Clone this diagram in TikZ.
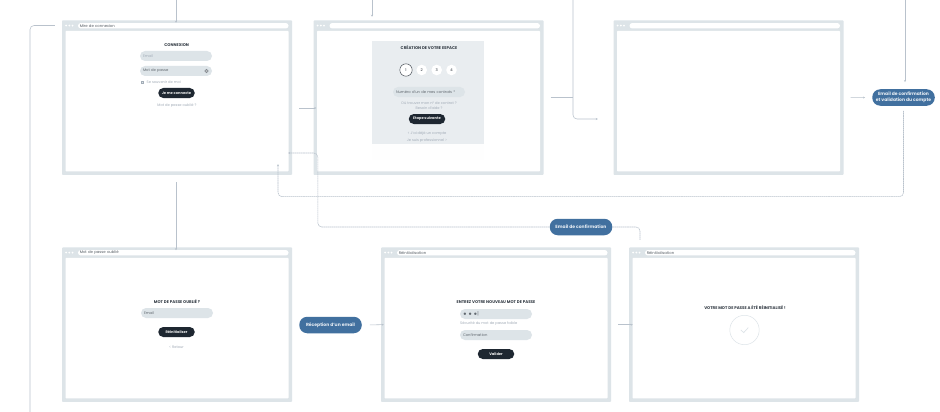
\documentclass[tikz,border=0pt]{standalone}
\usepackage{fontspec}
\setmainfont{Poppins}
\usetikzlibrary{arrows.meta, positioning, calc}

\definecolor{framegrey}{HTML}{DDE4E8}
\definecolor{panelgrey}{HTML}{E9EDF0}
\definecolor{linegrey}{HTML}{B9C2CC}
\definecolor{inkdark}{HTML}{1E2731}
\definecolor{softtext}{HTML}{A3ADB8}
\definecolor{pillblue}{HTML}{41709F}

\newcommand{\browser}[4]{%
  \node[frame] (#1) at (#2,#3) {};
  \node[pane] (#1pane) at ([yshift=-3.4pt]#1.center) {};
  \node[urlbar, anchor=north west] (#1bar) at ([xshift=16pt,yshift=-2.6pt]#1.north west) {#4};
  \foreach \i in {0,1,2} {\node[urldot] (#1dot\i) at ([xshift={4.3pt+3.2*\i pt},yshift=-5.3pt]#1.north west) {};}
}

\begin{document}
\begin{tikzpicture}[
    x=1pt, y=-1pt,
    frame/.style={rectangle, fill=framegrey, rounded corners=0.8pt, minimum width=230pt, minimum height=154.5pt, inner sep=0pt},
    pane/.style={rectangle, fill=white, rounded corners=0.8pt, minimum width=223pt, minimum height=140.5pt, inner sep=0pt},
    urlbar/.style={rectangle, fill=white, rounded corners=2.7pt, minimum width=210.5pt, minimum height=5.4pt, text width=207pt, inner sep=0pt, font=\fontsize{3.8}{4}\selectfont, text=inkdark!75},
    urldot/.style={circle, fill=white, minimum size=2pt, inner sep=0pt},
    heading/.style={font=\fontsize{4}{4}\selectfont\bfseries, text=inkdark!90, inner sep=0pt},
    field/.style={rectangle, fill=framegrey, rounded corners=5pt, minimum width=72pt, minimum height=10pt, text width=66pt, inner sep=0pt, font=\fontsize{3.7}{4}\selectfont, text=inkdark!70},
    button/.style={rectangle, fill=inkdark, rounded corners=5pt, minimum width=36.5pt, minimum height=10pt, inner sep=0pt, font=\fontsize{3.6}{4}\selectfont\bfseries, text=white!92!inkdark},
    hint/.style={font=\fontsize{3.6}{4.6}\selectfont, text=softtext, inner sep=0pt, align=center},
    pill/.style={rectangle, fill=pillblue, rounded corners=8pt, minimum width=62.5pt, minimum height=16.5pt, inner sep=0pt, align=center, font=\fontsize{4.5}{5.6}\selectfont\bfseries, text=white!88!pillblue},
    stepdot/.style={circle, fill=white, minimum size=10.6pt, inner sep=0pt, font=\fontsize{3.7}{4}\selectfont, text=inkdark},
    arrow/.style={-{Stealth[length=2pt,width=2pt]}, draw=linegrey, line width=0.55pt},
    link/.style={draw=linegrey, line width=0.55pt, rounded corners=4pt},
    dashlink/.style={link, dash pattern=on 1.6pt off 0.5pt},
    dasharrow/.style={dashlink, -{Stealth[length=2pt,width=2pt]}}
]
\useasboundingbox (0,0) rectangle (940,412);
\fill[white] (0,0) rectangle (940,412);

% Windows
\browser{login}{177}{97.7}{Mire de connexion}
\browser{signup}{428.5}{97.7}{}
\browser{blank}{728.5}{97.7}{}
\browser{forgot}{177}{324.7}{Mot de passe oublié}
\browser{reset}{496}{324.7}{Réinitialisation}
\browser{done}{744}{324.7}{Réinitialisation}

% Login screen
\node[heading] (logintitle) at (176.7,44.7) {CONNEXION};
\node[field, text=softtext] (loginmail) at (176,56) {Email};
\node[field] (loginpass) at (176,71) {Mot de passe};
\node[circle, draw=inkdark!55, fill=inkdark!30, line width=0.5pt, minimum size=3.6pt, inner sep=0pt] (logineye) at (206.5,71) {};
\node[rectangle, draw=softtext, fill=framegrey, line width=0.3pt, minimum size=2.6pt, inner sep=0pt] (logincheck) at (142,82) {};
\node[hint, anchor=west] (loginkeep) at (146.5,82) {Se souvenir de moi};
\node[button] (loginbtn) at (176.5,93) {Je me connecte};
\node[hint] (loginlost) at (177,106) {Mot de passe oublié ?};

% Signup screen
\fill[white!97!panelgrey] (372,144) rectangle (484,160);
\node[rectangle, fill=panelgrey, minimum width=112pt, minimum height=103pt, inner sep=0pt] (signuppanel) at (428,92.5) {};
\node[heading] (signuptitle) at (429,48) {CRÉATION DE VOTRE ESPACE};
\node[stepdot, draw=inkdark!80, line width=0.5pt, minimum size=12.4pt] (stepa) at (406,70) {1};
\node[stepdot] (stepb) at (421.7,70) {2};
\node[stepdot] (stepc) at (436.7,70) {3};
\node[stepdot] (stepd) at (451.5,70) {4};
\node[field] (signupfield) at (429,92) {Numéro d'un de mes contrats *};
\node[hint] (signuphelp) at (429,105.5) {Où trouver mon n° de contrat ?\\Besoin d'aide ?};
\node[button] (signupbtn) at (427,119) {Etape suivante};
\node[hint] (signupback) at (427,134) {< J'ai déjà un compte};
\node[hint] (signuppro) at (427,141) {Je suis professionnel >};

% Forgotten password screen
\node[heading] (forgottitle) at (177,302) {MOT DE PASSE OUBLIÉ ?};
\node[field] (forgotmail) at (177,313) {Email};
\node[button] (forgotbtn) at (176.5,332) {Réinitialiser};
\node[hint] (forgotback) at (176.5,347) {< Retour};

% New password screen
\node[heading] (resettitle) at (496,302) {ENTREZ VOTRE NOUVEAU MOT DE PASSE};
\node[field, font=\fontsize{5}{5}\selectfont] (resetpass) at (496,314) {$\bullet\bullet\bullet$|};
\node[hint, anchor=west] (resetweak) at (460,323.7) {Sécurité du mot de passe faible};
\node[field] (resetconf) at (496,335) {Confirmation};
\node[button] (resetbtn) at (496,354) {Valider};

% Done screen
\node[heading] (donetitle) at (745,308) {VOTRE MOT DE PASSE A ÉTÉ RÉINITIALISÉ !};
\node[circle, draw=framegrey, line width=0.5pt, minimum size=29.4pt, inner sep=0pt] (donering) at (744.5,330) {};
\draw[draw=framegrey, line width=0.7pt] ([xshift=-3.6pt]donering.center) -- ([xshift=-0.8pt,yshift=-2.6pt]donering.center) -- ([xshift=3.8pt,yshift=2.4pt]donering.center);

% Steps between screens
\node[pill] (mailconfirm) at (581,227) {Email de confirmation};
\node[pill] (mailvalid) at (903.5,97.5) {Email de confirmation\\et validation du compte};
\node[pill] (mailreceive) at (330.5,325) {Réception d'un email};

% Free ends
\coordinate (topa) at (176,0);
\coordinate (topb) at (372,0);
\coordinate (topc) at (573,0);
\coordinate (topd) at (905,0);
\coordinate (leftend) at (30,412);

% Connections
\draw[arrow] (topa) -- ([xshift=-1pt,yshift=-2.5pt]login.north);
\draw[arrow, shorten >=3.5pt] (topb) -- ([xshift=-56.5pt]signup.north);
\draw[arrow, shorten >=7pt] (topd) -- (topd |- mailvalid.north);
\draw[link] ([xshift=-7pt,yshift=72.2pt]login.west) -| (leftend);
\draw[arrow, shorten <=7pt, shorten >=-3pt] ([yshift=-10.3pt]login.east) -- ([yshift=-10.3pt]signup.west);
\draw[link, shorten <=7pt] (signup.east) -- (topc |- signup.east);
\draw[arrow, rounded corners=4pt] (topc) |- ([xshift=-15.5pt,yshift=-21.3pt]blank.west);
\draw[arrow, shorten <=7pt, shorten >=7pt] (blank.east) -- (mailvalid.west);
\draw[arrow, shorten <=7pt, shorten >=-3pt] ([xshift=-1pt]login.south) -- ([xshift=-1pt]forgot.north);
\draw[dasharrow, shorten <=5pt] (mailvalid.south) |- ([xshift=101pt,yshift=-21.5pt]login.south) -- ([xshift=101pt,yshift=11pt]login.south);
\draw[dasharrow] (mailconfirm.west) -| ([xshift=4.5pt,yshift=-55.3pt]signup.west) -- ([xshift=-4pt,yshift=-55.3pt]login.east);
\draw[dashlink, shorten >=7.5pt] (mailconfirm.east) -| ([xshift=-104pt]done.north);
\draw[arrow, shorten <=8pt, shorten >=-3pt] (mailreceive.east) -- (reset.west);
\draw[arrow, shorten <=7pt, shorten >=-4pt] (reset.east) -- (done.west);

\end{tikzpicture}
\end{document}
